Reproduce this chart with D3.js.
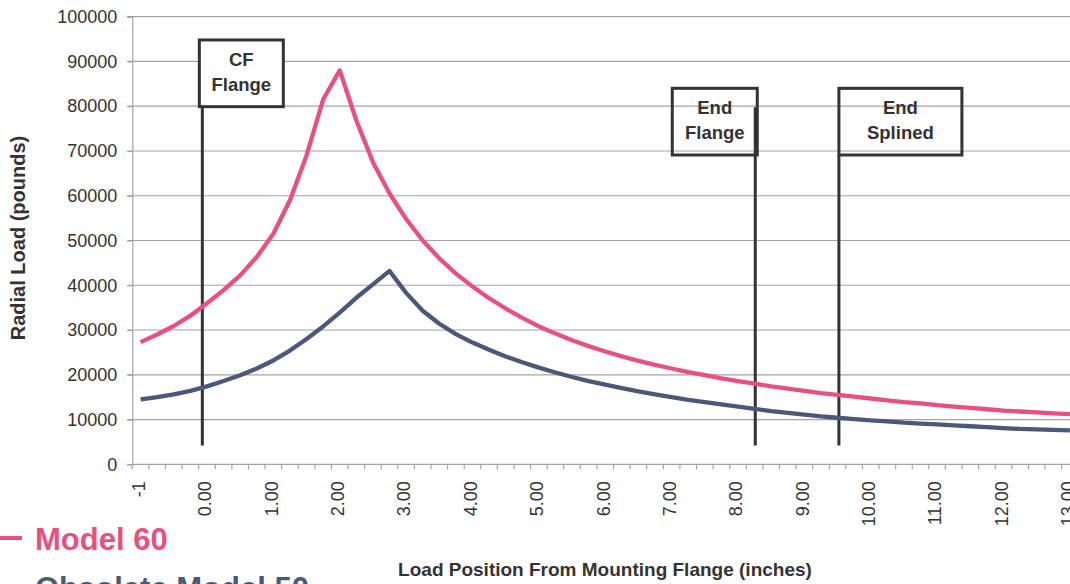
<!DOCTYPE html>
<html>
<head>
<meta charset="utf-8">
<script src="https://cdn.jsdelivr.net/npm/d3@7"></script>
<style>
  html, body { margin: 0; padding: 0; background: #fff; overflow: hidden; }
  svg { display: block; font-family: "Liberation Sans", Arial, sans-serif; }
</style>
</head>
<body>
<svg id="chart" width="1070" height="584"></svg>
<script>
// ---- data ----
const positions = [-1, -0.75, -0.5, -0.25, 0, 0.25, 0.5, 0.75, 1, 1.25, 1.5, 1.75, 2, 2.25, 2.5, 2.75,
  3, 3.25, 3.5, 3.75, 4, 4.25, 4.5, 4.75, 5, 5.25, 5.5, 5.75, 6, 6.25, 6.5, 6.75, 7, 7.25, 7.5, 7.75,
  8, 8.25, 8.5, 8.75, 9, 9.25, 9.5, 9.75, 10, 10.25, 10.5, 10.75, 11, 11.25, 11.5, 11.75, 12, 12.25, 12.5, 12.75, 13];
const model60 = [27300, 29000, 30900, 33200, 36000, 38900, 42200, 46300, 51500, 59000, 69000, 81500, 88000,
  76800, 67500, 60500, 54800, 50000, 46000, 42600, 39700, 37100, 34800, 32700, 30800, 29200, 27700, 26400,
  25200, 24100, 23100, 22200, 21400, 20600, 19900, 19200, 18600, 18000, 17400, 16900, 16400, 15900, 15500,
  15100, 14700, 14300, 13900, 13600, 13200, 12900, 12600, 12300, 12000, 11800, 11600, 11400, 11200];
const model50 = [14500, 15000, 15600, 16400, 17400, 18600, 19900, 21400, 23200, 25400, 28000, 30800, 33900,
  37200, 40200, 43200, 38300, 34300, 31400, 29100, 27200, 25600, 24100, 22800, 21600, 20500, 19500, 18600,
  17800, 17000, 16300, 15600, 15000, 14400, 13900, 13400, 12900, 12400, 11900, 11500, 11100, 10700, 10400,
  10100, 9800, 9600, 9300, 9100, 8900, 8700, 8500, 8300, 8100, 7900, 7800, 7700, 7600];
const xTickLabels = ["-1", "0.00", "1.00", "2.00", "3.00", "4.00", "5.00", "6.00", "7.00", "8.00",
  "9.00", "10.00", "11.00", "12.00", "13.00"];
const yTicks = [0, 10000, 20000, 30000, 40000, 50000, 60000, 70000, 80000, 90000, 100000];
const seriesNames = ["Model 60", "Obsolete Model 50"];
const markerNames = [["CF", "Flange"], ["End", "Flange"], ["End", "Splined"]];
const markerPositions = [-0.07, 8.26, 9.52];
const markerBoxTop = [94800, 84000, 84000];
const markerBoxBottom = [79900, 69100, 69100];

// ---- layout ----
const svg = d3.select("#chart");
const plotLeft = 132.3, plotRight = 1078.2, plotTop = 16.7, plotBottom = 464.3;
const pink = "#E8507E", navy = "#4B587A", ink = "#333", grid = "#a3a3a3";

const idx = positions.map((d, i) => i);
const xBand = d3.scaleBand().domain(idx).range([plotLeft, plotRight]).padding(0);
const xc = i => xBand(i) + xBand.bandwidth() / 2;
const xVal = d3.scaleLinear().domain([positions[0], positions[positions.length - 1]])
  .range([xc(0), xc(positions.length - 1)]);
const y = d3.scaleLinear().domain([0, 100000]).range([plotBottom, plotTop]);

// gridlines
svg.append("g").selectAll("line").data(yTicks.slice(1)).join("line")
  .attr("x1", plotLeft - 5).attr("x2", 1070).attr("y1", d => y(d)).attr("y2", d => y(d))
  .attr("stroke", grid).attr("stroke-width", 1.2);

// y axis
const yAxis = d3.axisLeft(y).tickValues(yTicks).tickSize(5).tickPadding(10).tickFormat(d3.format("d"));
const gy = svg.append("g").attr("transform", `translate(${plotLeft},0)`).call(yAxis);
gy.select(".domain").attr("stroke", grid).attr("stroke-width", 1.2);
gy.selectAll(".tick line").attr("stroke", grid).attr("stroke-width", 1.2);
gy.selectAll("text").attr("font-size", 18).attr("fill", ink).attr("font-family", "Liberation Sans, Arial, sans-serif");

// x axis (category style: ticks at boundaries)
svg.append("line").attr("x1", plotLeft).attr("x2", 1070).attr("y1", plotBottom).attr("y2", plotBottom)
  .attr("stroke", grid).attr("stroke-width", 1.2);
const boundaries = d3.range(positions.length + 1);
svg.append("g").selectAll("line").data(boundaries).join("line")
  .attr("x1", i => plotLeft + i * xBand.bandwidth()).attr("x2", i => plotLeft + i * xBand.bandwidth())
  .attr("y1", plotBottom).attr("y2", plotBottom + 5).attr("stroke", grid).attr("stroke-width", 1.2);
svg.append("g").selectAll("text").data(xTickLabels).join("text")
  .attr("transform", (d, k) => `translate(${xc(k * 4) - 2},${plotBottom + 17}) rotate(-90)`)
  .attr("text-anchor", "end").attr("dy", "0.35em")
  .attr("font-size", 18).attr("fill", ink).text(d => d);

// annotation lines + boxes
markerNames.forEach((lines, k) => {
  const lx = xVal(markerPositions[k]);
  const bt = y(markerBoxTop[k]), bb = y(markerBoxBottom[k]);
  let bx0, bx1;
  if (k === 0) { bx0 = lx - 3; bx1 = lx + 81; }
  else if (k === 1) { bx0 = lx - 83; bx1 = lx + 2; }
  else { bx0 = lx; bx1 = lx + 123; }
  const startY = k === 1 ? bt + 19 : bb;
  svg.append("line").attr("x1", lx).attr("x2", lx).attr("y1", startY).attr("y2", 445.5)
    .attr("stroke", ink).attr("stroke-width", 3);
  svg.append("rect").attr("x", bx0).attr("y", bt).attr("width", bx1 - bx0).attr("height", bb - bt)
    .attr("fill", k === 0 ? "#fff" : "none").attr("stroke", ink).attr("stroke-width", 3);
  const cx = (bx0 + bx1) / 2;
  lines.forEach((t, j) => {
    svg.append("text").attr("x", cx).attr("y", bt + 26 + j * 25)
      .attr("text-anchor", "middle").attr("font-size", 18.5).attr("font-weight", "bold")
      .attr("fill", ink).text(t);
  });
});

// series lines
const line = d3.line().x((d, i) => xc(i)).y(d => y(d));
svg.append("path").datum(model60).attr("d", line).attr("fill", "none")
  .attr("stroke", pink).attr("stroke-width", 4.3).attr("stroke-linejoin", "round");
svg.append("path").datum(model50).attr("d", line).attr("fill", "none")
  .attr("stroke", navy).attr("stroke-width", 4.3).attr("stroke-linejoin", "round");

// axis titles
svg.append("text").attr("x", 605).attr("y", 576).attr("text-anchor", "middle")
  .attr("font-size", 19).attr("font-weight", "bold").attr("fill", ink)
  .text("Load Position From Mounting Flange (inches)");
svg.append("text").attr("transform", "translate(25,238) rotate(-90)").attr("text-anchor", "middle")
  .attr("font-size", 20).attr("font-weight", "bold").attr("fill", ink)
  .text("Radial Load (pounds)");

// legend
const legendColors = [pink, navy];
seriesNames.forEach((name, k) => {
  const by = 550 + k * 49;
  svg.append("line").attr("x1", 0).attr("x2", 22).attr("y1", by - 12).attr("y2", by - 12)
    .attr("stroke", legendColors[k]).attr("stroke-width", 4);
  svg.append("text").attr("x", 35).attr("y", by).attr("font-size", 31).attr("font-weight", "bold")
    .attr("fill", legendColors[k]).text(name);
});
</script>
</body>
</html>
